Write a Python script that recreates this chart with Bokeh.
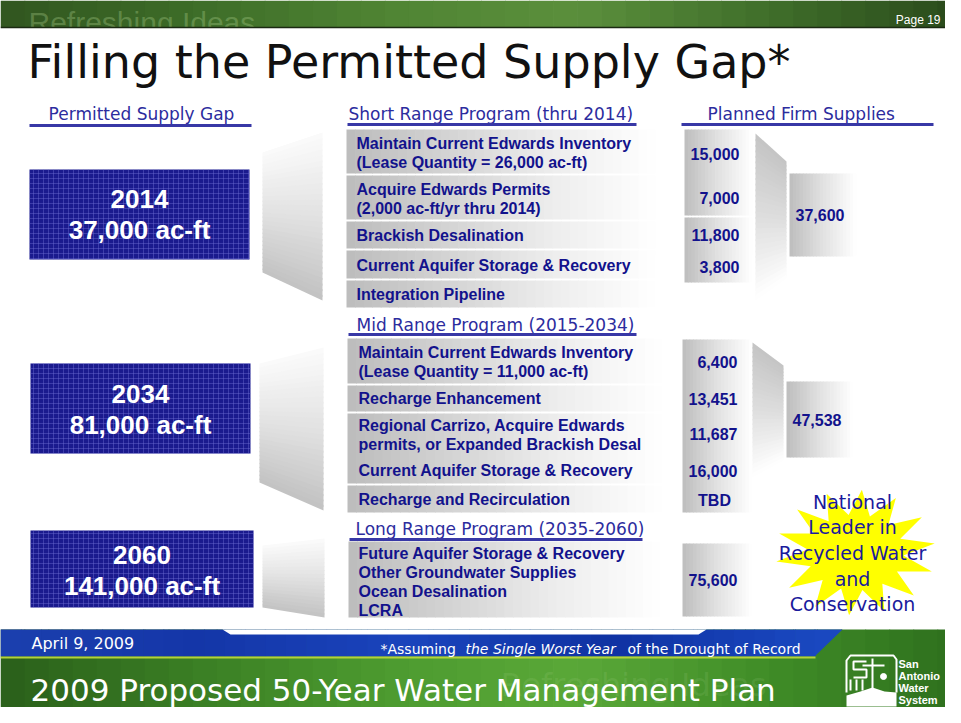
import numpy as np
from bokeh.plotting import figure
from bokeh.models import Range1d
from bokeh.core.properties import value
from bokeh.embed import file_html
from bokeh.resources import INLINE

# ---------------- data (texts and values) ----------------
title = "Filling the Permitted Supply Gap*"
page_label = "Page 19"
banner_word = "Refreshing Ideas"
col_headers = ["Permitted Supply Gap", "Planned Firm Supplies"]
program_titles = ["Short Range Program (thru 2014)",
                  "Mid Range Program (2015-2034)",
                  "Long Range Program (2035-2060)"]
gap_years = ["2014", "2034", "2060"]
gap_amounts = ["37,000 ac-ft", "81,000 ac-ft", "141,000 ac-ft"]

short_rows = [["Maintain Current Edwards Inventory", "(Lease Quantity = 26,000 ac-ft)"],
              ["Acquire Edwards Permits", "(2,000 ac-ft/yr thru 2014)"],
              ["Brackish Desalination"],
              ["Current Aquifer Storage & Recovery"],
              ["Integration Pipeline"]]
short_values = ["15,000", "7,000", "11,800", "3,800"]
short_total = "37,600"

mid_rows = [["Maintain Current Edwards Inventory", "(Lease Quantity = 11,000 ac-ft)"],
            ["Recharge Enhancement"],
            ["Regional Carrizo, Acquire Edwards", "permits, or Expanded Brackish Desal",
             "Current Aquifer Storage & Recovery"],
            ["Recharge and Recirculation"]]
mid_values = ["6,400", "13,451", "11,687", "16,000"]
mid_tbd = "TBD"
mid_total = "47,538"

long_rows = [["Future Aquifer Storage & Recovery", "Other Groundwater Supplies",
              "Ocean Desalination", "LCRA"]]
long_values = ["75,600"]

star_lines = ["National", "Leader in", "Recycled Water", "and", "Conservation"]
footer_date = "April 9, 2009"
footnote_parts = ["*Assuming", "the Single Worst Year", "of the Drought of Record"]
footer_title = "2009 Proposed 50-Year Water Management Plan"
logo_lines = ["San", "Antonio", "Water", "System"]

# ---------------- layout (slide pixel coordinates) ----------------
short_row_y = [(129, 173), (175, 219), (221, 248), (250, 278), (280, 307)]
short_line_y = [[143, 162], [189, 208], [235], [265], [294]]
short_val_y = [153, 197, 234, 266]
mid_row_y = [(338, 383), (385, 411), (413, 483), (485, 512)]
mid_line_y = [[352, 371], [398], [425, 444, 470], [499]]
mid_val_y = [361, 398, 433, 470]
long_row_y = [(541, 617)]
long_line_y = [[553, 572, 591, 610]]
long_val_y = [579]

NAVY = "#12128c"
HEAD = "#2c2c9e"
SANS = "Liberation Sans"
VER = "DejaVu Sans"

p = figure(width=945, height=707, x_range=Range1d(0, 945), y_range=Range1d(707, 0),
           output_backend="svg", toolbar_location=None, min_border=0,
           x_axis_location=None, y_axis_location=None)
p.grid.visible = False
p.outline_line_color = None
p.background_fill_color = "white"
p.border_fill_color = "white"


def hex2rgb(h):
    h = h.lstrip("#")
    return np.array([int(h[i:i + 2], 16) for i in (0, 2, 4)], float)


def ramp(stops, t):
    cs = [hex2rgb(s) for s in stops]
    n = len(cs) - 1
    pos = min(max(t, 0), 1) * n
    i = min(int(pos), n - 1)
    f = pos - i
    c = cs[i] * (1 - f) + cs[i + 1] * f
    return "#%02x%02x%02x" % tuple(int(round(v)) for v in c)


def hgrad(x0, x1, y0, y1, stops, n=30):
    xs = np.linspace(x0, x1, n + 1)
    left = xs[:-1]
    right = xs[1:] + np.r_[np.full(n - 1, 0.7), 0.0]
    cols = [ramp(stops, (i + 0.5) / n) for i in range(n)]
    p.quad(left=left, right=right, top=y0, bottom=y1, fill_color=cols, line_color=None)


def vgrad_poly(xl, xr, ytl, ytr, ybl, ybr, stops, n=30):
    xs_l, ys_l, cols = [], [], []
    for i in range(n):
        t0 = i / n
        t1 = (i + 1) / n + (0.012 if i < n - 1 else 0)
        xs_l.append([xl, xr, xr, xl])
        ys_l.append([ytl + (ybl - ytl) * t0, ytr + (ybr - ytr) * t0,
                     ytr + (ybr - ytr) * t1, ytl + (ybl - ytl) * t1])
        cols.append(ramp(stops, (i + 0.5) / n))
    p.patches(xs_l, ys_l, fill_color=cols, line_color=None)


def txt(xs, ys, ss, size, color, font=SANS, style="normal", align="left",
        baseline="middle", alpha=1.0):
    p.text(x=xs, y=ys, text=ss, text_font=value(font), text_font_size=f"{size}px",
           text_font_style=style, text_color=color, text_align=align,
           text_baseline=baseline, text_alpha=alpha)


# ---------------- top banner ----------------
hgrad(0, 961, 0, 27, ["#31561f", "#3d6c28", "#4f8433", "#5b8f3c", "#3f6e2a", "#2a4a1b"], n=40)
txt([28], [22], [banner_word], 30, "#a8cc88", font=SANS, alpha=0.35)
p.quad(left=0, right=961, top=27.5, bottom=55, fill_color="white", line_color=None)
p.segment(x0=[0], y0=[27], x1=[961], y1=[27], line_color="#1b2a12", line_width=1.5)
txt([940], [19], [page_label], 12, "white", font=SANS, align="right")

# ---------------- title ----------------
txt([27], [61], [title], 46, "#111111", font=VER)

# ---------------- bottom banner ----------------
hgrad(0, 961, 629, 716, ["#2a5f1a", "#3a7e24", "#4c9a2f", "#5aa838", "#3f8c27", "#2e6f1d"], n=40)
txt([500], [684], [banner_word], 32, "#d8f0c0", font=VER, alpha=0.1)
hgrad(0, 815, 629, 656, ["#1b3fae", "#1436a8", "#1a44bc", "#0f32a2", "#1a48c0"], n=40)
p.patch([814, 842, 814], [629, 629, 656], fill_color="#1a48c0", line_color=None)
p.patch([222, 706, 698, 230], [629, 629, 634, 634], fill_color="white", line_color=None)
p.segment(x0=[0], y0=[657], x1=[815], y1=[657], line_color="#b3d23a", line_width=2)
txt([31], [643], [footer_date], 16, "white", font=VER)
txt([380], [648], [footnote_parts[0]], 14, "white", font=VER)
txt([465], [648], [footnote_parts[1]], 14, "white", font=VER, style="italic")
txt([627], [648], [footnote_parts[2]], 14, "white", font=VER)
txt([30], [689], [footer_title], 31, "white", font=VER)

# logo
p.multi_line(xs=[[846, 846, 850, 893, 896, 896],
                 [866, 853, 853, 866, 866, 853],
                 [872, 872], [862, 884],
                 [850, 850], [856, 856], [862, 862]],
             ys=[[692, 660, 655, 655, 659, 692],
                 [661, 661, 669, 669, 677, 677],
                 [658, 690], [665, 665],
                 [679, 690], [679, 690], [679, 690]],
             line_color="white", line_width=2)
p.scatter([883], [676], size=6, marker="circle", color="white")
p.patch([846, 860, 872, 884, 896, 896, 846], [695, 691, 687, 691, 692, 706, 706],
        fill_color="white", line_color=None)
txt([898] * 4, [663, 675, 687, 699], logo_lines, 11, "white", font=SANS, style="bold")

# ---------------- column headers ----------------
txt([141], [113], [col_headers[0]], 17, HEAD, font=VER, align="center")
txt([348], [113], [program_titles[0]], 17, HEAD, font=VER)
txt([707], [113], [col_headers[1]], 17, HEAD, font=VER)
txt([356], [324], [program_titles[1]], 17, HEAD, font=VER)
txt([355], [528], [program_titles[2]], 17, HEAD, font=VER)
p.segment(x0=[29, 347, 681, 348, 349], y0=[125, 124, 124, 334, 539],
          x1=[251, 636, 933, 636, 642], y1=[125, 124, 124, 334, 539],
          line_color="#3838a6", line_width=3)

# ---------------- gap boxes ----------------
box_l = [29, 30, 30]
box_r = [249, 250, 253]
box_t = [169, 363, 530]
box_b = [259, 453, 607]
p.quad(left=box_l, right=box_r, top=box_t, bottom=box_b, fill_color="#1a1a8e", line_color=None,
       hatch_pattern="+", hatch_color="#7070d8", hatch_alpha=0.4, hatch_scale=5, hatch_weight=1)
box_cx = [(a + b) / 2 for a, b in zip(box_l, box_r)]
txt(box_cx, [198, 393, 554], gap_years, 26, "white", style="bold", align="center")
txt(box_cx, [229, 424, 585], gap_amounts, 26, "white", style="bold", align="center")

# ---------------- left funnels ----------------
fun_stops = ["#fbfbfb", "#e2e2e2", "#c2c2c2"]
vgrad_poly(262, 322, 152, 132, 272, 300, fun_stops)
vgrad_poly(259, 323, 363, 347, 482, 510, fun_stops)
vgrad_poly(262, 324, 545, 538, 607, 617, fun_stops, n=20)

# ---------------- program rows ----------------
row_stops = ["#bcbcbc", "#d4d4d4", "#ededed", "#ffffff"]


def draw_rows(row_y, line_y, rows, x0, x1, tx):
    for (y0, y1), ly, lines in zip(row_y, line_y, rows):
        hgrad(x0, x1, y0, y1, row_stops, n=36)
        txt([tx] * len(lines), ly, lines, 16, NAVY, style="bold")


draw_rows(short_row_y, short_line_y, short_rows, 346, 655, 356)
draw_rows(mid_row_y, mid_line_y, mid_rows, 347, 662, 358)
draw_rows(long_row_y, long_line_y, long_rows, 348, 660, 358)

# ---------------- planned firm supplies ----------------
val_stops = ["#bdbdbd", "#e2e2e2", "#ffffff"]
hgrad(684, 752, 129, 215, val_stops, n=20)
hgrad(684, 752, 217, 282, val_stops, n=20)
hgrad(682, 752, 339, 512, val_stops, n=20)
hgrad(682, 752, 543, 616, val_stops, n=20)
txt([739] * 4, short_val_y, short_values, 16, NAVY, style="bold", align="right")
txt([737] * 4, mid_val_y, mid_values, 16, NAVY, style="bold", align="right")
txt([714], [500], [mid_tbd], 16, NAVY, style="bold", align="center")
txt([737], long_val_y, long_values, 16, NAVY, style="bold", align="right")

rf_stops = ["#c4c4c4", "#dedede", "#ffffff"]
vgrad_poly(755, 786, 133, 161, 300, 278, rf_stops)
vgrad_poly(752, 783, 342, 365, 477, 460, rf_stops)

hgrad(789, 856, 173, 256, val_stops, n=20)
hgrad(786, 853, 381, 457, val_stops, n=20)
txt([795], [214], [short_total], 16, NAVY, style="bold")
txt([792], [419], [mid_total], 16, NAVY, style="bold")

# ---------------- starburst ----------------
n_sp = 14
ang = np.linspace(0, 2 * np.pi, 2 * n_sp, endpoint=False) - np.pi / 2 + 0.08
rad = np.where(np.arange(2 * n_sp) % 2 == 0, 1.0, 0.6)
cx, cy = 855, 552
p.patch(cx + 80 * rad * np.cos(ang), cy + 63 * rad * np.sin(ang), fill_color="#ffff00", line_color=None)
txt([852] * 5, [501, 526, 552, 578, 603], star_lines, 19, "#1a1a9c", font=VER, align="center")

open("out.html", "w").write(file_html(p, INLINE))
